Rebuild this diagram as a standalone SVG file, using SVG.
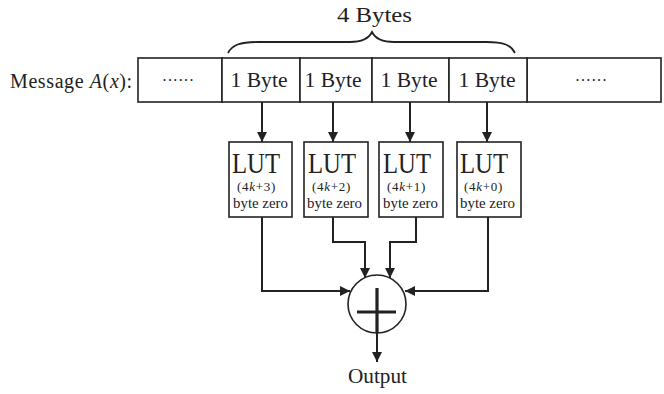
<svg xmlns="http://www.w3.org/2000/svg" width="664" height="394" viewBox="0 0 664 394">
  <style>
    .bg { fill: #ffffff; }
    .box { fill: #ffffff; stroke: #222222; stroke-width: 1.6; }
    .wire { fill: none; stroke: #222222; stroke-width: 2; }
    .brace { fill: none; stroke: #222222; stroke-width: 1.8; }
    text { font-family: "Liberation Serif", "Times New Roman", serif; fill: #222222; }
    .big { font-size: 22px; }
    .msg { font-size: 20px; letter-spacing: 0.6px; }
    .lut { font-size: 29px; }
    .idx { font-size: 13px; letter-spacing: 0.7px; }
    .bz { font-size: 15px; }
    .dots { font-size: 16px; }
  </style>
  <defs>
    <marker id="arrow" viewBox="0 0 10 10" refX="10" refY="5" markerWidth="10" markerHeight="10" markerUnits="userSpaceOnUse" orient="auto">
      <path d="M0,0 L10,5 L0,10 z" fill="#222222"/>
    </marker>
  </defs>
  <rect class="bg" x="0" y="0" width="664" height="394"/>

  <!-- brace over the four bytes -->
  <g id="brace">
    <path class="brace" d="M228,53 C232,45 240,42 258,42 L350,42 C363,42 369,38 372,32 C375,38 381,42 394,42 L486,42 C504,42 511,45 515,53"/>
    <text class="big" x="374.5" y="22" text-anchor="middle" textLength="75" lengthAdjust="spacingAndGlyphs">4 Bytes</text>
  </g>

  <!-- message row -->
  <g id="message">
    <text class="msg" x="10" y="88">Message <tspan font-style="italic">A</tspan>(<tspan font-style="italic">x</tspan>):</text>
    <rect class="box" x="138" y="58" width="84" height="44"/>
    <text class="dots" x="178" y="81" text-anchor="middle" textLength="31" lengthAdjust="spacing">......</text>
    <rect class="box" x="527" y="58" width="134" height="44"/>
    <text class="dots" x="591" y="81" text-anchor="middle" textLength="31" lengthAdjust="spacing">......</text>
  </g>
  <g id="byte3">
    <rect class="box" x="222" y="58" width="78" height="44"/>
    <text class="big" x="259" y="87" text-anchor="middle" textLength="57" lengthAdjust="spacingAndGlyphs">1 Byte</text>
  </g>
  <g id="byte2">
    <rect class="box" x="300" y="58" width="72" height="44"/>
    <text class="big" x="333" y="87" text-anchor="middle" textLength="57" lengthAdjust="spacingAndGlyphs">1 Byte</text>
  </g>
  <g id="byte1">
    <rect class="box" x="372" y="58" width="77" height="44"/>
    <text class="big" x="409" y="87" text-anchor="middle" textLength="57" lengthAdjust="spacingAndGlyphs">1 Byte</text>
  </g>
  <g id="byte0">
    <rect class="box" x="449" y="58" width="78" height="44"/>
    <text class="big" x="487" y="87" text-anchor="middle" textLength="57" lengthAdjust="spacingAndGlyphs">1 Byte</text>
  </g>

  <!-- lookup tables -->
  <g id="lut3">
    <rect class="box" x="229" y="142" width="63" height="75"/>
    <text class="lut" x="232" y="173" textLength="48" lengthAdjust="spacingAndGlyphs">LUT</text>
    <text class="idx" x="237" y="191">(4<tspan font-style="italic">k</tspan>+3)</text>
    <text class="bz" x="233" y="208" textLength="55" lengthAdjust="spacingAndGlyphs">byte zero</text>
  </g>
  <g id="lut2">
    <rect class="box" x="304" y="142" width="64" height="75"/>
    <text class="lut" x="308" y="173" textLength="48" lengthAdjust="spacingAndGlyphs">LUT</text>
    <text class="idx" x="312" y="191">(4<tspan font-style="italic">k</tspan>+2)</text>
    <text class="bz" x="307" y="208" textLength="55" lengthAdjust="spacingAndGlyphs">byte zero</text>
  </g>
  <g id="lut1">
    <rect class="box" x="379" y="142" width="64" height="75"/>
    <text class="lut" x="383" y="173" textLength="48" lengthAdjust="spacingAndGlyphs">LUT</text>
    <text class="idx" x="387" y="191">(4<tspan font-style="italic">k</tspan>+1)</text>
    <text class="bz" x="383" y="208" textLength="55" lengthAdjust="spacingAndGlyphs">byte zero</text>
  </g>
  <g id="lut0">
    <rect class="box" x="457" y="142" width="64" height="75"/>
    <text class="lut" x="460" y="173" textLength="48" lengthAdjust="spacingAndGlyphs">LUT</text>
    <text class="idx" x="464" y="191">(4<tspan font-style="italic">k</tspan>+0)</text>
    <text class="bz" x="460" y="208" textLength="55" lengthAdjust="spacingAndGlyphs">byte zero</text>
  </g>

  <!-- XOR adder -->
  <g id="xor">
    <circle class="box" cx="377" cy="304" r="29"/>
    <path d="M357,312 H396 M377,288 V333" fill="none" stroke="#222222" stroke-width="3.2"/>
  </g>

  <g id="output">
    <text class="big" x="377.5" y="383" text-anchor="middle" textLength="59" lengthAdjust="spacingAndGlyphs">Output</text>
  </g>

  <!-- connectors -->
  <g id="connectors" class="wire">
    <path d="M262,102 V142" marker-end="url(#arrow)"/>
    <path d="M333,102 V142" marker-end="url(#arrow)"/>
    <path d="M410,102 V142" marker-end="url(#arrow)"/>
    <path d="M487,102 V142" marker-end="url(#arrow)"/>
    <path d="M262,217 V291 H350" marker-end="url(#arrow)"/>
    <path d="M333,217 V242 H365 V278" marker-end="url(#arrow)"/>
    <path d="M416,217 V242 H390 V278" marker-end="url(#arrow)"/>
    <path d="M488,217 V291 H405" marker-end="url(#arrow)"/>
    <path d="M377,333 V362" marker-end="url(#arrow)"/>
  </g>
</svg>
